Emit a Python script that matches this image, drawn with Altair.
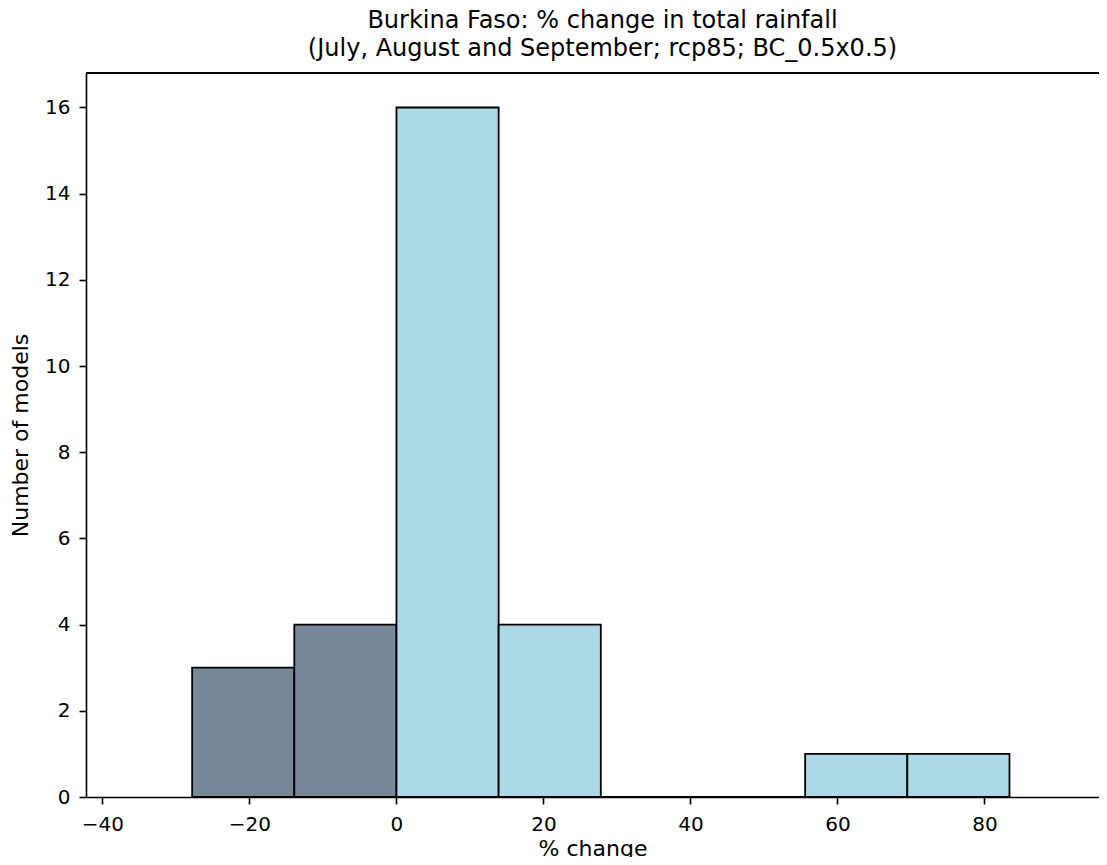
import altair as alt
import pandas as pd

# Histogram bins (% change) and counts (number of models)
bin_start = [-27.8, -13.9, 0.0, 13.9, 27.8, 41.7, 55.6, 69.5]
bin_end = [-13.9, 0.0, 13.9, 27.8, 41.7, 55.6, 69.5, 83.4]
counts = [3, 4, 16, 4, 0, 0, 1, 1]
groups = ["negative", "negative", "positive", "positive",
          "positive", "positive", "positive", "positive"]

x_ticks = [-40, -20, 0, 20, 40, 60, 80]
y_ticks = [0, 2, 4, 6, 8, 10, 12, 14, 16]

title_lines = ["Burkina Faso: % change in total rainfall",
               "(July, August and September; rcp85; BC_0.5x0.5)"]

df = pd.DataFrame({"start": bin_start, "end": bin_end,
                   "count": counts, "group": groups})

FONT = "DejaVu Sans"
W, H = 1013, 724

x_scale = alt.Scale(domain=[-42.24, 95.58], nice=False, zero=False)
y_scale = alt.Scale(domain=[0, 16.8], nice=False)

bars = alt.Chart(df).mark_rect(stroke="black", strokeWidth=1.8).encode(
    x=alt.X("start:Q", scale=x_scale,
            axis=alt.Axis(values=x_ticks, title="% change", format="d",
                          labelFontSize=20, titleFontSize=22,
                          labelPadding=10, titlePadding=4,
                          tickSize=7, tickWidth=1.6, tickColor="black",
                          domainColor="black", domainWidth=1.6,
                          labelColor="black", titleColor="black",
                          labelFont=FONT, titleFont=FONT,
                          titleFontWeight="normal", grid=False, zindex=1)),
    x2="end:Q",
    y=alt.Y("count:Q", scale=y_scale,
            axis=alt.Axis(values=y_ticks, title="Number of models",
                          labelFontSize=20, titleFontSize=22,
                          labelPadding=9, titlePadding=12,
                          tickSize=7, tickWidth=1.6, tickColor="black",
                          domainColor="black", domainWidth=1.6,
                          labelColor="black", titleColor="black",
                          labelFont=FONT, titleFont=FONT,
                          titleFontWeight="normal", grid=False, zindex=1)),
    y2=alt.datum(0),
    color=alt.Color("group:N", legend=None,
                    scale=alt.Scale(domain=["negative", "positive"],
                                    range=["#778899", "#add8e6"])),
)

top_spine = alt.Chart(df).mark_rule(color="black", strokeWidth=1.6).encode(
    x=alt.value(0), x2=alt.value(W), y=alt.value(0)
)

chart = alt.layer(bars, top_spine).properties(
    width=W, height=H,
    title=alt.TitleParams(text=title_lines, font=FONT, fontSize=24,
                          fontWeight="normal", color="black",
                          anchor="middle", lineHeight=28, offset=11, dx=10),
    autosize=alt.AutoSizeParams(type="none"),
    padding={"left": 78, "top": 65, "right": 0, "bottom": 60},
).configure_view(strokeWidth=0)

chart.save("out.html", embed_options={"renderer": "svg", "actions": False})
